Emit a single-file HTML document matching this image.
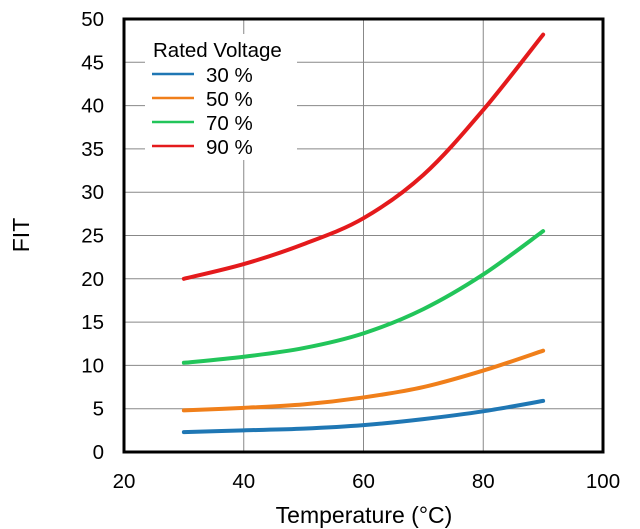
<!DOCTYPE html>
<html><head><meta charset="utf-8"><style>
html,body{margin:0;padding:0;background:#fff;}
svg{display:block;font-family:"Liberation Sans",Arial,sans-serif;}
</style></head><body>
<svg id="chart" width="640" height="529" viewBox="0 0 640 529">
<g id="grid"></g>
<g id="series"></g>
<rect x="124" y="19" width="479" height="433" fill="none" stroke="#000" stroke-width="3"/>
<g id="ticks"></g>
<text x="364" y="523" font-size="23" text-anchor="middle">Temperature (°C)</text>
<text transform="translate(29,235) rotate(-90)" font-size="23" text-anchor="middle">FIT</text>
<g>
<rect x="145" y="34" width="152" height="126" fill="#fff"/>
<text x="153" y="57" font-size="20.5">Rated Voltage</text>
<g id="legend-items"></g>
</g>
</svg>
<script>
const temps = [30, 40, 50, 60, 70, 80, 90];
const s30 = [2.3, 2.5, 2.7, 3.1, 3.8, 4.7, 5.9];
const s50 = [4.8, 5.1, 5.5, 6.3, 7.5, 9.4, 11.7];
const s70 = [10.3, 11.0, 12.0, 13.7, 16.5, 20.5, 25.5];
const s90 = [20.0, 21.7, 24.0, 27.0, 32.0, 39.5, 48.2];
const seriesNames = ["30 %", "50 %", "70 %", "90 %"];
const xTicks = [20, 40, 60, 80, 100];
const yTicks = [0, 5, 10, 15, 20, 25, 30, 35, 40, 45, 50];

const colors = ["#1f77b4", "#f07f1a", "#22c55a", "#e41a1c"];
const NS = "http://www.w3.org/2000/svg";
const X0 = 124, X1 = 603, Y0 = 452, Y1 = 19;
const xs = v => X0 + (v - 20) / 80 * (X1 - X0);
const ys = v => Y0 - v / 50 * (Y0 - Y1);
function mk(tag, attrs, parent) {
  const e = document.createElementNS(NS, tag);
  for (const k in attrs) e.setAttribute(k, attrs[k]);
  parent.appendChild(e);
  return e;
}
const grid = document.getElementById('grid');
const ticks = document.getElementById('ticks');
xTicks.forEach(t => {
  const l = mk('line', {x1: xs(t), x2: xs(t), y1: Y1, y2: Y0, stroke: '#888', 'stroke-width': 1}, grid);
  
  
  const tx = mk('text', {x: xs(t), y: 488, 'font-size': 20.5, 'text-anchor': 'middle'}, ticks);
  tx.textContent = t;
  
  
});
yTicks.forEach(t => {
  const l = mk('line', {x1: X0, x2: X1, y1: ys(t), y2: ys(t), stroke: '#888', 'stroke-width': 1}, grid);
  
  
  const tx = mk('text', {x: 104, y: ys(t) + 7, 'font-size': 20.5, 'text-anchor': 'end'}, ticks);
  tx.textContent = t;
  
  
});
function smoothPath(pts) {
  let d = 'M' + pts[0][0] + ',' + pts[0][1];
  for (let i = 0; i < pts.length - 1; i++) {
    const p0 = pts[Math.max(i - 1, 0)], p1 = pts[i], p2 = pts[i + 1], p3 = pts[Math.min(i + 2, pts.length - 1)];
    const c1 = [p1[0] + (p2[0] - p0[0]) / 6, p1[1] + (p2[1] - p0[1]) / 6];
    const c2 = [p2[0] - (p3[0] - p1[0]) / 6, p2[1] - (p3[1] - p1[1]) / 6];
    d += ' C' + c1 + ' ' + c2 + ' ' + p2;
  }
  return d;
}
const all = [s30, s50, s70, s90];
const sg = document.getElementById('series');
const lg = document.getElementById('legend-items');
all.forEach((vals, i) => {
  const pts = temps.map((t, j) => [xs(t), ys(vals[j])]);
  const p = mk('path', {d: smoothPath(pts), fill: 'none', stroke: colors[i], 'stroke-width': 4, 'stroke-linecap': 'round'}, sg);
  
  
  const y = 75 + i * 24;
  const ll = mk('line', {x1: 152, x2: 194, y1: y - 1, y2: y - 1, stroke: colors[i], 'stroke-width': 2.5}, lg);
  
  
  const lt = mk('text', {x: 206, y: y + 7, 'font-size': 20.5}, lg);
  lt.textContent = seriesNames[i];
  
  
});
</script>
</body></html>
